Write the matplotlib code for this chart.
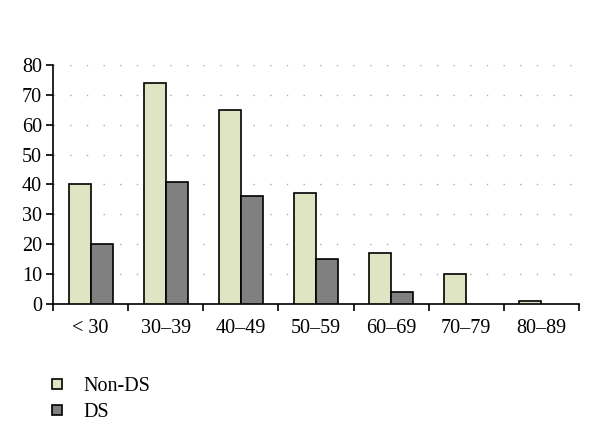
import numpy as np
import matplotlib.pyplot as plt
from matplotlib.lines import Line2D

plt.rcParams['font.family'] = ['Liberation Serif', 'DejaVu Serif']

categories = ['< 30', '30\u201339', '40\u201349', '50\u201359', '60\u201369', '70\u201379', '80\u201389']
non_ds = [40, 74, 65, 37, 17, 10, 1]
ds = [20, 41, 36, 15, 4, 0, 0]

c_non = '#dfe5c3'
c_ds = '#808080'
fs = 14.5

fig = plt.figure(figsize=(6, 4.47), dpi=100)
ax = fig.add_axes([0.0883, 0.3199, 0.8767, 0.5347])

x = np.arange(len(categories))
w = 0.293
ax.bar(x - w/2, non_ds, w, color=c_non, edgecolor='black', lw=1.2, zorder=3)
ax.bar(x + w/2, [v if v > 0 else np.nan for v in ds], w, color=c_ds, edgecolor='black', lw=1.2, zorder=3)

ax.set_xlim(-0.5, len(categories) - 0.5)
ax.set_ylim(0, 80)
ax.set_yticks(np.arange(0, 81, 10))
ax.set_xticks(np.arange(-0.5, len(categories), 1.0))
ax.set_xticklabels([])
ax.set_xticks(x, minor=True)
ax.set_xticklabels(categories, minor=True)
ax.tick_params(axis='x', which='minor', length=0, pad=11, labelsize=fs)
ax.tick_params(axis='x', which='major', length=5, width=1.2, direction='out')
ax.tick_params(axis='y', length=5, width=1.2, direction='out', labelsize=fs, pad=3)

ax.spines['top'].set_visible(False)
ax.spines['right'].set_visible(False)
ax.spines['left'].set_linewidth(1.2)
ax.spines['bottom'].set_linewidth(1.2)
ax.yaxis.grid(True, linestyle=(0, (1, 11)), color='#aaaaaa', lw=1.0)
ax.set_axisbelow(True)

handles = [Line2D([], [], marker='s', ls='', markersize=7, markerfacecolor=c_non, markeredgecolor='black', markeredgewidth=1.2),
           Line2D([], [], marker='s', ls='', markersize=7, markerfacecolor=c_ds, markeredgecolor='black', markeredgewidth=1.2)]
fig.legend(handles, ['Non-DS', 'DS'], loc='upper left', bbox_to_anchor=(0.048, 0.197),
           bbox_transform=fig.transFigure, frameon=False, fontsize=fs,
           handlelength=1.0, handletextpad=0.8, labelspacing=0.35)

fig.savefig('out.png', dpi=100)
